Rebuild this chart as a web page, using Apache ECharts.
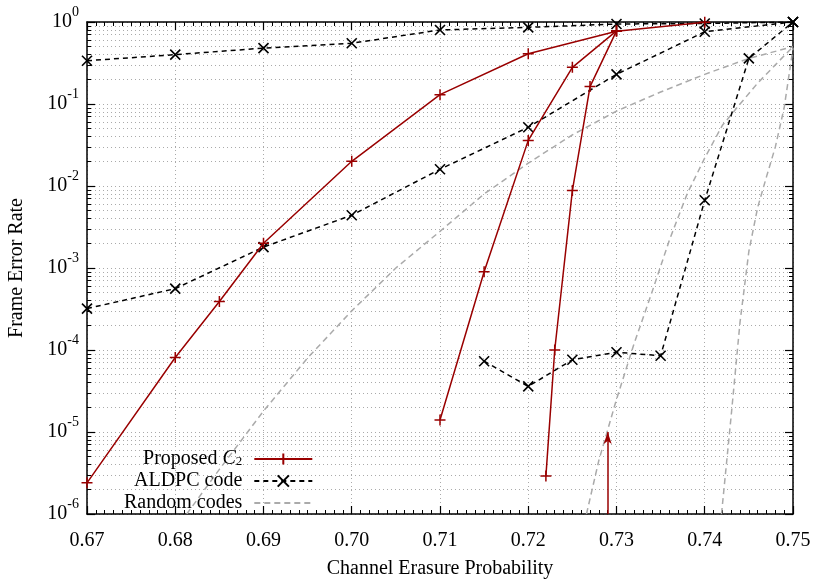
<!DOCTYPE html>
<html>
<head>
<meta charset="utf-8">
<script src="https://cdn.jsdelivr.net/npm/echarts@6/dist/echarts.min.js"></script>
<style>
html, body { margin: 0; padding: 0; background: #fff; }
#chart { width: 830px; height: 580px; }
</style>
</head>
<body>
<div id="chart"></div>
<script>
// Proposed C2 (three runs)
const propAx = [0.67, 0.68, 0.685, 0.69, 0.70, 0.71, 0.72, 0.73, 0.74]
const propAy = [2.4e-6, 8.1e-5, 3.9e-4, 2.0e-3, 2.0e-2, 0.13, 0.41, 0.77, 0.99]
const propBx = [0.71, 0.715, 0.72, 0.725, 0.73]
const propBy = [1.4e-5, 9.0e-4, 3.6e-2, 0.28, 0.78]
const propCx = [0.722, 0.723, 0.725, 0.727, 0.73]
const propCy = [2.9e-6, 1.0e-4, 8.8e-3, 0.163, 0.78]

// ALDPC code (three runs)
const aldDx = [0.67, 0.68, 0.69, 0.70, 0.71, 0.72, 0.73, 0.74, 0.75]
const aldDy = [0.337, 0.40, 0.48, 0.55, 0.80, 0.86, 0.945, 0.96, 1.0]
const aldEx = [0.67, 0.68, 0.69, 0.70, 0.71, 0.72, 0.73, 0.74, 0.75]
const aldEy = [3.2e-4, 5.6e-4, 1.8e-3, 4.4e-3, 1.6e-2, 5.2e-2, 0.23, 0.76, 1.0]
const aldFx = [0.715, 0.72, 0.725, 0.73, 0.735, 0.74, 0.745, 0.75]
const aldFy = [7.3e-5, 3.6e-5, 7.6e-5, 9.4e-5, 8.5e-5, 6.7e-3, 0.36, 1.0]

// Random codes (three curves)
const rndGx = [0.6813, 0.685, 0.69, 0.695, 0.70, 0.705, 0.71, 0.715, 0.72, 0.725, 0.73, 0.735, 0.74, 0.745, 0.75]
const rndGy = [1e-6, 3.5e-6, 1.8e-5, 8e-5, 3e-4, 1e-3, 2.8e-3, 8e-3, 1.9e-2, 4.2e-2, 8.2e-2, 0.14, 0.23, 0.36, 0.5]
const rndHx = [0.7266, 0.728, 0.73, 0.732, 0.734, 0.736, 0.738, 0.74, 0.742, 0.744, 0.746, 0.748, 0.75]
const rndHy = [1e-6, 4.5e-6, 2.5e-5, 1.2e-4, 5e-4, 2.2e-3, 8e-3, 0.022, 0.055, 0.1, 0.18, 0.3, 0.5]
const rndIx = [0.7419, 0.743, 0.744, 0.745, 0.746, 0.747, 0.748, 0.749, 0.75]
const rndIy = [1e-6, 1.6e-5, 2.2e-4, 1.6e-3, 5.5e-3, 0.013, 0.03, 0.09, 0.48]

// arrow annotation
const arrowX = 0.729
const arrowFrom = 1e-6
const arrowTo = 1e-5

// y axis ticks
const decades = [1e-6, 1e-5, 1e-4, 1e-3, 1e-2, 1e-1, 1]
const minorVals = []
for (let k = -6; k < 0; k++) {
  for (let m = 2; m <= 9; m++) minorVals.push(m * Math.pow(10, k))
}

const RED = '#990000'
const FONT = 'Liberation Serif'
const plusPath = 'path://M0,5L10,5M5,0L5,10'
const crossPath = 'path://M0,0L10,10M10,0L0,10'

const pts = (xs, ys) => xs.map((x, i) => [x, ys[i]])

const chart = echarts.init(document.getElementById('chart'))

function redSeries (xs, ys, extra) {
  return Object.assign({
    name: 'Proposed C2',
    type: 'line',
    data: pts(xs, ys),
    symbol: plusPath,
    symbolSize: 11,
    showAllSymbol: true,
    lineStyle: { color: RED, width: 1.5 },
    itemStyle: { color: RED, borderColor: RED, borderWidth: 1.5 },
    z: 4
  }, extra || {})
}
function blackSeries (xs, ys) {
  return {
    name: 'ALDPC code',
    type: 'line',
    data: pts(xs, ys),
    symbol: crossPath,
    symbolSize: 10,
    showAllSymbol: true,
    lineStyle: { color: '#000', width: 1.5, type: [5, 4] },
    itemStyle: { color: '#000', borderColor: '#000', borderWidth: 1.6 },
    z: 3
  }
}
function graySeries (xs, ys) {
  return {
    name: 'Random codes',
    type: 'line',
    data: pts(xs, ys),
    symbol: 'none',
    lineStyle: { color: '#aaaaaa', width: 1.5, type: [6, 4] },
    itemStyle: { color: '#aaaaaa' },
    z: 2
  }
}

const yLabelRich = {
  b: { fontFamily: FONT, fontSize: 20, color: '#000', padding: [7, 0, 7, 0] },
  e: { fontFamily: FONT, fontSize: 14, color: '#000', verticalAlign: 'top', lineHeight: 14 }
}

const logAxisBase = { type: 'log', logBase: 10, min: 1e-6, max: 1 }
const dotted = { show: true, lineStyle: { color: '#aaa', type: [1, 3], width: 1 } }

const option = {
  animation: false,
  backgroundColor: '#fff',
  grid: { left: 87, right: 37, top: 22, bottom: 66, outerBoundsMode: 'none' },
  legend: {
    data: ['Proposed C2', 'ALDPC code', { name: 'Random codes', itemStyle: { opacity: 0 } }],
    orient: 'vertical',
    align: 'right',
    left: 124,
    top: 447,
    padding: 0,
    itemWidth: 58,
    itemHeight: 14,
    itemGap: 2,
    formatter: name => (name === 'Proposed C2' ? '{n|Proposed }{c|C}{s|2}' : '{n|' + name + '}') + '{g| }',
    textStyle: {
      rich: {
        n: { fontFamily: FONT, fontSize: 20, lineHeight: 18, color: '#000' },
        c: { fontFamily: FONT, fontSize: 20, lineHeight: 18, fontStyle: 'italic', color: '#000' },
        s: { fontFamily: FONT, fontSize: 13, lineHeight: 12, color: '#000', verticalAlign: 'bottom', padding: [8, 0, 0, 0] },
        g: { fontSize: 10, width: 7, lineHeight: 10 }
      }
    }
  },
  xAxis: [
    {
      type: 'value',
      min: 0.67,
      max: 0.75,
      interval: 0.01,
      position: 'bottom',
      name: 'Channel Erasure Probability',
      nameLocation: 'middle',
      nameGap: 45,
      nameTextStyle: { fontFamily: FONT, fontSize: 20, color: '#000' },
      axisLine: { show: true, lineStyle: { color: '#000', width: 1.5 } },
      axisTick: { show: true, inside: true, length: 8, lineStyle: { color: '#000', width: 1.2 } },
      minorTick: { show: true, splitNumber: 10, length: 4, lineStyle: { color: '#000', width: 1 } },
      axisLabel: { fontFamily: FONT, fontSize: 20, color: '#000', margin: 17, formatter: v => v.toFixed(2) },
      splitLine: dotted
    },
    {
      type: 'value',
      min: 0.67,
      max: 0.75,
      interval: 0.01,
      position: 'top',
      axisLine: { show: true, lineStyle: { color: '#000', width: 1.5 } },
      axisTick: { show: true, inside: true, length: 8, lineStyle: { color: '#000', width: 1.2 } },
      minorTick: { show: true, splitNumber: 10, length: 4, lineStyle: { color: '#000', width: 1 } },
      axisLabel: { show: false },
      splitLine: { show: false }
    }
  ],
  yAxis: [
    Object.assign({}, logAxisBase, {
      position: 'left',
      name: 'Frame Error Rate',
      nameLocation: 'middle',
      nameGap: 60,
      nameTextStyle: { fontFamily: FONT, fontSize: 20, color: '#000' },
      axisLine: { show: true, lineStyle: { color: '#000', width: 1.5 } },
      axisTick: { show: true, inside: true, length: 8, customValues: decades, lineStyle: { color: '#000', width: 1.2 } },
      axisLabel: {
        customValues: decades,
        margin: 8,
        formatter: v => '{b|10}{e|' + Math.round(Math.log10(v)) + '}',
        rich: yLabelRich
      },
      splitLine: dotted
    }),
    Object.assign({}, logAxisBase, {
      position: 'left',
      axisLine: { show: false },
      axisTick: { show: true, inside: true, length: 4, customValues: minorVals, lineStyle: { color: '#000', width: 1 } },
      axisLabel: { show: false },
      splitLine: dotted
    }),
    Object.assign({}, logAxisBase, {
      position: 'right',
      axisLine: { show: true, lineStyle: { color: '#000', width: 1.5 } },
      axisTick: { show: true, inside: true, length: 8, customValues: decades, lineStyle: { color: '#000', width: 1.2 } },
      axisLabel: { show: false },
      splitLine: { show: false }
    }),
    Object.assign({}, logAxisBase, {
      position: 'right',
      axisLine: { show: false },
      axisTick: { show: true, inside: true, length: 4, customValues: minorVals, lineStyle: { color: '#000', width: 1 } },
      axisLabel: { show: false },
      splitLine: { show: false }
    })
  ],
  series: [
    redSeries(propAx, propAy, {
      markLine: {
        silent: true,
        symbol: ['none', 'arrow'],
        symbolSize: [6, 12],
        label: { show: false },
        lineStyle: { color: RED, type: 'solid', width: 1.5 },
        data: [[{ coord: [arrowX, arrowFrom] }, { coord: [arrowX, arrowTo] }]]
      }
    }),
    redSeries(propBx, propBy),
    redSeries(propCx, propCy),
    blackSeries(aldDx, aldDy),
    blackSeries(aldEx, aldEy),
    blackSeries(aldFx, aldFy),
    graySeries(rndGx, rndGy),
    graySeries(rndHx, rndHy),
    graySeries(rndIx, rndIy)
  ]
}

chart.setOption(option)
</script>
</body>
</html>
